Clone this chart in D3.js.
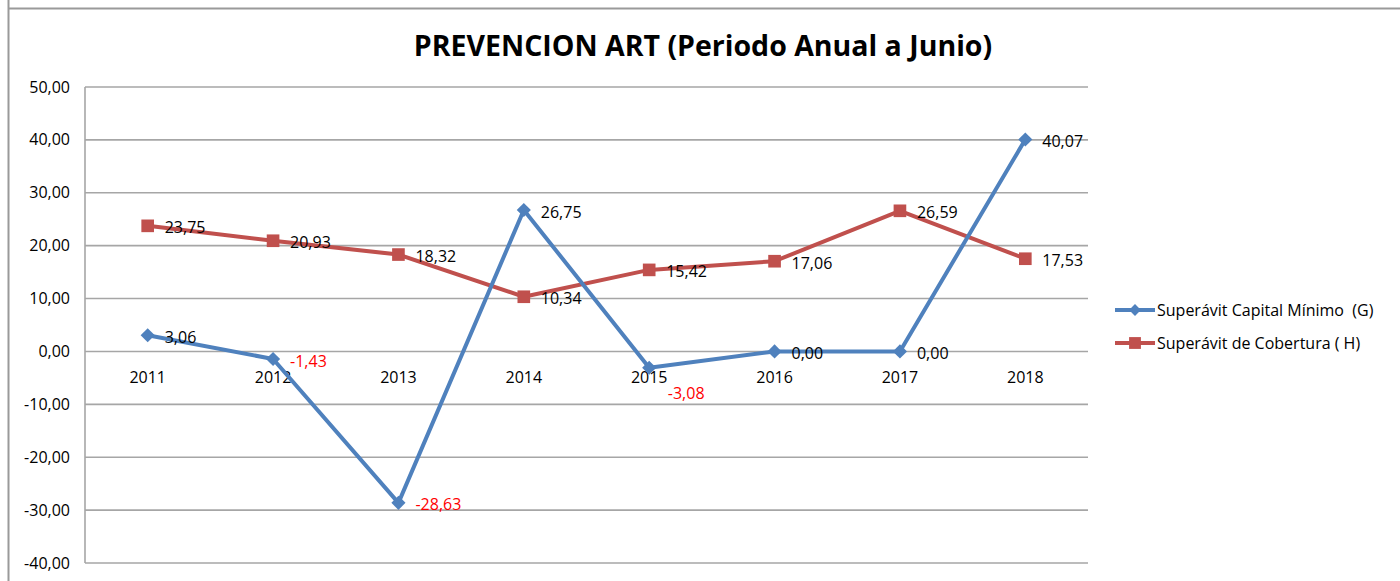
<!DOCTYPE html>
<html><head><meta charset="utf-8">
<script src="https://cdn.jsdelivr.net/npm/d3@7"></script>
<style>
html,body{margin:0;padding:0;background:#fff;}
svg{display:block;}
text{font-family:"Open Sans","Noto Sans",sans-serif; white-space:pre;}
</style></head>
<body><svg id="c" width="1400" height="581"></svg>
<script>
const title = "PREVENCION ART (Periodo Anual a Junio)";
const years = ["2011","2012","2013","2014","2015","2016","2017","2018"];
const capitalMinimo = [3.06, -1.43, -28.63, 26.75, -3.08, 0.00, 0.00, 40.07];
const cobertura = [23.75, 20.93, 18.32, 10.34, 15.42, 17.06, 26.59, 17.53];
const yTicks = [50, 40, 30, 20, 10, 0, -10, -20, -30, -40];
const seriesNames = ["Superávit Capital Mínimo  (G)", "Superávit de Cobertura ( H)"];
// label placement per point (right of marker, or below for one)
const capitalLabelPlace = ["r","r","r","r","b","r","r","r"];
const coberturaLabelPlace = ["r","r","r","r","r","r","r","r"];

const locale = d3.formatLocale({decimal:",", thousands:".", grouping:[3], currency:["",""], minus:"-"});
const fmt = locale.format(".2f");

const svg = d3.select("#c");
const W = 1400, H = 581;
const plot = {left:85, right:1088, top:87, bottom:563};
const blue = "#4F81BD", red = "#C0504D";
const FS = 16;

// outer frame
svg.append("line").attr("x1",8.5).attr("x2",8.5).attr("y1",0).attr("y2",H).attr("stroke","#9a9a9a").attr("stroke-width",2);
svg.append("line").attr("x1",8).attr("x2",W).attr("y1",8.5).attr("y2",8.5).attr("stroke","#9a9a9a").attr("stroke-width",2);

const x = d3.scalePoint().domain(years).range([plot.left, plot.right]).padding(0.5);
const y = d3.scaleLinear().domain([-40, 50]).range([plot.bottom, plot.top]);

// gridlines
svg.append("g").selectAll("line").data(yTicks).join("line")
  .attr("x1", plot.left).attr("x2", plot.right)
  .attr("y1", d => y(d)).attr("y2", d => y(d))
  .attr("stroke", "#a6a6a6").attr("stroke-width", 1.6);
// plot left border
svg.append("line").attr("x1",plot.left).attr("x2",plot.left).attr("y1",plot.top).attr("y2",plot.bottom)
  .attr("stroke","#a6a6a6").attr("stroke-width",1.6);

// y axis labels
svg.append("g").selectAll("text").data(yTicks).join("text")
  .attr("x", 70).attr("y", d => y(d)).attr("dy","0.35em")
  .attr("text-anchor","end").attr("font-size",FS).attr("fill","#000")
  .text(d => fmt(d));

// category labels beneath 0 line
svg.append("g").selectAll("text").data(years).join("text")
  .attr("x", d => x(d)).attr("y", y(0) + 26).attr("dy","0.35em")
  .attr("text-anchor","middle").attr("font-size",FS).attr("fill","#000")
  .text(d => d);

// title
svg.append("text").attr("x", 703).attr("y", 46).attr("dy","0.35em")
  .attr("text-anchor","middle").attr("font-size",28.5).attr("font-weight","bold").attr("fill","#000")
  .text(title);

const line = d3.line().x(d => x(d.year)).y(d => y(d.v));
const capData = years.map((yr,i) => ({year:yr, v:capitalMinimo[i], place:capitalLabelPlace[i]}));
const cobData = years.map((yr,i) => ({year:yr, v:cobertura[i], place:coberturaLabelPlace[i]}));

const diamond = d3.symbol().type(d3.symbolSquare).size(100);
const square = d3.symbol().type(d3.symbolSquare).size(160);

function drawSeries(data, color, isDiamond) {
  const g = svg.append("g");
  g.append("path").datum(data).attr("d", line).attr("fill","none")
    .attr("stroke", color).attr("stroke-width", 4).attr("stroke-linejoin","round");
  g.selectAll("path.m").data(data).join("path").attr("class","m")
    .attr("transform", d => `translate(${x(d.year)},${y(d.v)})` + (isDiamond ? " rotate(45)" : ""))
    .attr("d", isDiamond ? diamond : square).attr("fill", color);
}
drawSeries(cobData, red, false);
drawSeries(capData, blue, true);

function drawLabels(data) {
  svg.append("g").selectAll("text").data(data).join("text")
    .attr("x", d => d.place === "b" ? x(d.year) + 37 : x(d.year) + 17)
    .attr("y", d => d.place === "b" ? y(d.v) + 26 : y(d.v) + 2)
    .attr("dy","0.35em")
    .attr("text-anchor", d => d.place === "b" ? "middle" : "start")
    .attr("font-size",FS)
    .attr("fill", d => d.v < 0 ? "#FF0000" : "#000")
    .text(d => fmt(d.v));
}
drawLabels(cobData);
drawLabels(capData);

// legend
const legend = svg.append("g");
const legItems = [{name:seriesNames[0], color:blue, dia:true},
                  {name:seriesNames[1], color:red, dia:false}];
legItems.forEach((it, i) => {
  const ly = 310 + i * 33;
  legend.append("line").attr("x1",1115).attr("x2",1155).attr("y1",ly).attr("y2",ly)
    .attr("stroke", it.color).attr("stroke-width",4);
  legend.append("path").attr("transform",`translate(1135,${ly})` + (it.dia ? " rotate(45)" : ""))
    .attr("d", it.dia ? d3.symbol().type(d3.symbolSquare).size(70)() : d3.symbol().type(d3.symbolSquare).size(140)())
    .attr("fill", it.color);
  legend.append("text").attr("x",1157).attr("y",ly).attr("dy","0.35em")
    .attr("font-size",FS).attr("fill","#000").text(it.name);
});
</script></body></html>
